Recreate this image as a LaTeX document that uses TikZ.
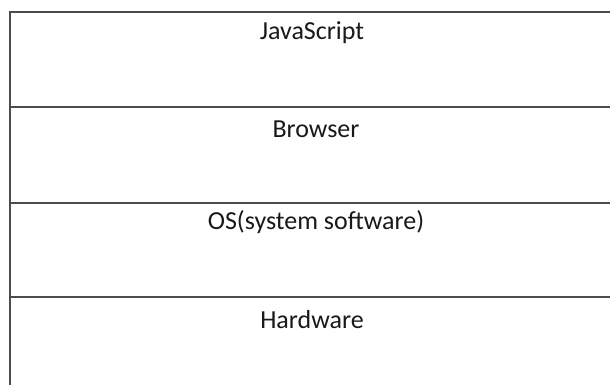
\documentclass[tikz,border=0pt]{standalone}
\usepackage{fontspec}
\setmainfont{Carlito}
\begin{document}
\begin{tikzpicture}[x=1pt,y=-1pt,
  rule/.style={draw=black!70,line width=2pt},
  layer/.style={anchor=base,inner sep=0pt,font=\fontsize{26}{30}\selectfont,text=black!90}]
\useasboundingbox (0,0) rectangle (610,385);
\draw[rule] (9.5,385) -- (9.5,12.5) -- (610,12.5);
\draw[rule] (9.5,106.7) -- (610,106.7);
\draw[rule] (9.5,202.7) -- (610,202.7);
\draw[rule] (9.5,297) -- (610,297);
\node[layer] (js) at (312,40) {JavaScript};
\node[layer] (br) at (316,138) {Browser};
\node[layer] (os) at (316,229) {OS(system software)};
\node[layer] (hw) at (312,328) {Hardware};
\end{tikzpicture}
\end{document}
